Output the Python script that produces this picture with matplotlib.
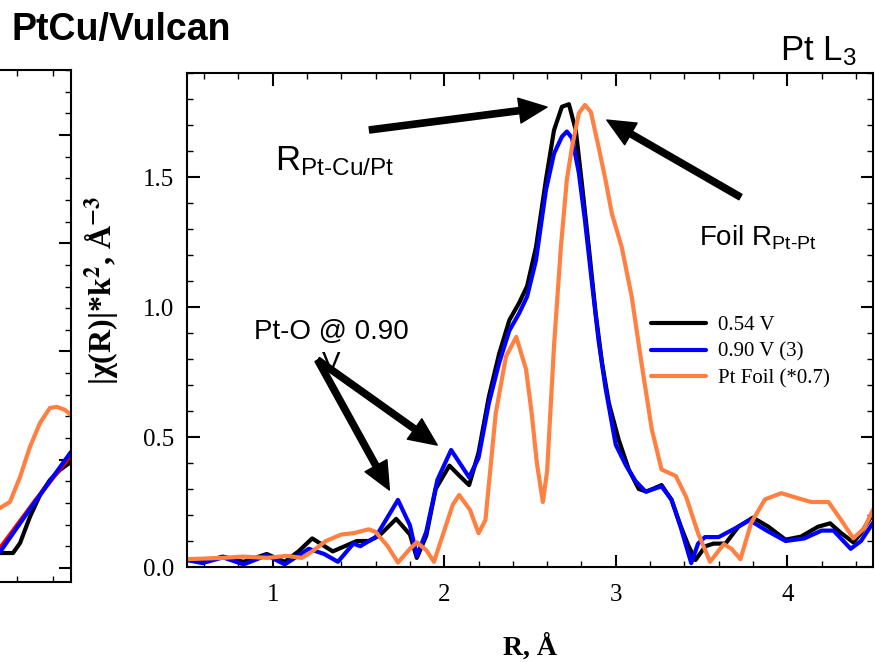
import matplotlib
matplotlib.use("Agg")
import matplotlib.pyplot as plt
from matplotlib.ticker import MultipleLocator

plt.rcParams['mathtext.fontset'] = 'custom'
plt.rcParams['mathtext.rm'] = 'Liberation Sans'
plt.rcParams['mathtext.it'] = 'Liberation Sans:italic'
plt.rcParams['mathtext.bf'] = 'Liberation Sans:bold'
plt.rcParams['lines.solid_joinstyle'] = 'round'
plt.rcParams['lines.solid_capstyle'] = 'round'

# main panel: Pt L3 edge, |chi(R)| vs R
r_054 = [0.5, 0.59, 0.71, 0.83, 0.965, 1.07, 1.15, 1.23, 1.35, 1.42, 1.49, 1.56, 1.62, 1.72, 1.80, 1.84,
         1.895, 1.95, 2.03, 2.09, 2.145, 2.20, 2.26, 2.32, 2.38, 2.436, 2.483, 2.535, 2.593, 2.64, 2.686,
         2.727, 2.767, 2.80, 2.843, 2.883, 2.92, 2.96, 3.017, 3.076, 3.134, 3.18, 3.267, 3.325, 3.38,
         3.425, 3.465, 3.523, 3.57, 3.64, 3.715, 3.80, 3.89, 3.99, 4.08, 4.18, 4.25, 4.315, 4.385, 4.43, 4.5]
chi_054 = [0.027, 0.02, 0.04, 0.02, 0.05, 0.02, 0.06, 0.11, 0.06, 0.08, 0.10, 0.10, 0.12, 0.185, 0.125, 0.035,
           0.12, 0.30, 0.39, 0.35, 0.315, 0.44, 0.655, 0.82, 0.95, 1.015, 1.08, 1.23, 1.49, 1.68, 1.77,
           1.78, 1.68, 1.49, 1.23, 0.975, 0.785, 0.63, 0.49, 0.375, 0.30, 0.29, 0.315, 0.258, 0.155,
           0.08, 0.027, 0.08, 0.09, 0.09, 0.155, 0.19, 0.155, 0.105, 0.117, 0.155, 0.168, 0.13, 0.095, 0.13, 0.205]

r_090 = [0.5, 0.59, 0.71, 0.83, 0.965, 1.07, 1.21, 1.30, 1.38, 1.47, 1.51, 1.60, 1.73, 1.80, 1.84, 1.895,
         1.96, 2.04, 2.145, 2.20, 2.26, 2.32, 2.38, 2.436, 2.483, 2.535, 2.593, 2.64, 2.686, 2.715, 2.745,
         2.785, 2.82, 2.86, 2.90, 2.94, 3.0, 3.06, 3.116, 3.174, 3.267, 3.325, 3.38, 3.44, 3.48, 3.52,
         3.60, 3.70, 3.78, 3.88, 3.99, 4.1, 4.2, 4.27, 4.37, 4.43, 4.5]
chi_090 = [0.027, 0.015, 0.037, 0.01, 0.045, 0.01, 0.07, 0.05, 0.02, 0.09, 0.08, 0.115, 0.258, 0.16, 0.043, 0.135,
           0.335, 0.45, 0.345, 0.42, 0.63, 0.785, 0.91, 0.975, 1.04, 1.18, 1.45, 1.59, 1.655, 1.675, 1.65,
           1.515, 1.335, 1.10, 0.87, 0.69, 0.47, 0.39, 0.33, 0.29, 0.31, 0.26, 0.15, 0.015, 0.09, 0.115,
           0.115, 0.15, 0.18, 0.14, 0.10, 0.11, 0.14, 0.14, 0.07, 0.10, 0.17]

r_foil = [0.5, 0.7, 0.83, 0.97, 1.08, 1.17, 1.23, 1.31, 1.40, 1.47, 1.56, 1.60, 1.67, 1.73, 1.80, 1.84,
          1.895, 1.94, 2.0, 2.05, 2.087, 2.15, 2.20, 2.24, 2.30, 2.36, 2.42, 2.477, 2.51, 2.54, 2.575,
          2.60, 2.64, 2.68, 2.715, 2.745, 2.785, 2.82, 2.855, 2.90, 2.94, 2.977, 3.035, 3.093, 3.15,
          3.21, 3.267, 3.35, 3.41, 3.48, 3.55, 3.63, 3.675, 3.727, 3.79, 3.87, 3.965, 4.06, 4.14, 4.24,
          4.315, 4.385, 4.45, 4.5]
chi_foil = [0.03, 0.035, 0.04, 0.035, 0.043, 0.035, 0.06, 0.10, 0.125, 0.13, 0.145, 0.135, 0.08, 0.017, 0.07, 0.095,
            0.065, 0.02, 0.14, 0.24, 0.277, 0.22, 0.13, 0.18, 0.59, 0.81, 0.885, 0.76, 0.59, 0.40, 0.25,
            0.37, 0.85, 1.23, 1.49, 1.615, 1.745, 1.777, 1.75, 1.615, 1.49, 1.36, 1.23, 1.04, 0.785,
            0.53, 0.375, 0.35, 0.27, 0.13, 0.02, 0.088, 0.07, 0.03, 0.17, 0.26, 0.284, 0.265, 0.25, 0.25,
            0.18, 0.11, 0.15, 0.22]

labels = ['0.54 V', '0.90 V (3)', 'Pt Foil (*0.7)']
colors = ['#000000', '#0000ff', '#ff8040']

# left panel (cut off at the figure edge)
xl_orange = [4.106, 4.161, 4.217, 4.272, 4.328, 4.383, 4.422, 4.467, 4.5]
yl_orange = [0.277, 0.305, 0.42, 0.559, 0.67, 0.739, 0.744, 0.73, 0.707]
xl_black = [4.106, 4.178, 4.217, 4.272, 4.328, 4.383, 4.439, 4.5]
yl_black = [0.069, 0.069, 0.115, 0.236, 0.337, 0.406, 0.453, 0.49]
xl_blue = [4.106, 4.3, 4.5]
yl_blue = [0.074, 0.305, 0.536]
xl_red = [4.106, 4.3, 4.5]
yl_red = [0.092, 0.31, 0.522]

fig = plt.figure(figsize=(8.75, 6.62), dpi=100)

def style_axes(ax):
    for s in ax.spines.values():
        s.set_linewidth(1.5)
    ax.tick_params(which='both', direction='in', top=True, right=True, width=1.5)
    ax.tick_params(which='major', length=9)
    ax.tick_params(which='minor', length=4.5, width=1)

ax0 = fig.add_axes([-0.3, 0.1208, 0.3811, 0.7734])
ax0.plot(xl_orange, yl_orange, color=colors[2], lw=3)
ax0.plot(xl_black, yl_black, color='black', lw=3)
ax0.plot(xl_red, yl_red, color='red', lw=3)
ax0.plot(xl_blue, yl_blue, color='blue', lw=3)
ax0.set_xlim(2.647, 4.5)
ax0.set_ylim(-0.065, 2.30)
ax0.xaxis.set_major_locator(MultipleLocator(1))
ax0.xaxis.set_minor_locator(MultipleLocator(0.2))
ax0.yaxis.set_major_locator(MultipleLocator(0.5))
ax0.yaxis.set_minor_locator(MultipleLocator(0.1))
style_axes(ax0)
ax0.tick_params(labelleft=False, labelbottom=False)

ax = fig.add_axes([187/875, 1-567/662, 686/875, 494/662])
ax.plot(r_054, chi_054, color=colors[0], lw=3, label=labels[0])
ax.plot(r_090, chi_090, color=colors[1], lw=3, label=labels[1])
ax.plot(r_foil, chi_foil, color=colors[2], lw=3, label=labels[2])
ax.set_xlim(0.5, 4.5)
ax.set_ylim(0, 1.9)
ax.xaxis.set_major_locator(MultipleLocator(1))
ax.xaxis.set_minor_locator(MultipleLocator(0.2))
ax.yaxis.set_major_locator(MultipleLocator(0.5))
ax.yaxis.set_minor_locator(MultipleLocator(0.1))
ax.yaxis.set_major_formatter(plt.FormatStrFormatter('%.1f'))
style_axes(ax)
ax.tick_params(axis='x', pad=12)
ax.tick_params(axis='y', pad=9)
for t in ax.get_xticklabels() + ax.get_yticklabels():
    t.set_fontfamily('Liberation Serif')
    t.set_fontsize(18)

ax.set_ylabel(r'|χ(R)|*k$^{\mathbf{2}}$, Å$^{\mathbf{-3}}$', fontsize=23, fontweight='bold',
              fontfamily='Liberation Serif', math_fontfamily='stix')
ax.yaxis.set_label_coords(-0.095, 0.56)
ax.set_xlabel('R, Å', fontsize=20, fontweight='bold', fontfamily='Liberation Serif')
ax.xaxis.set_label_coords(0.5, -0.135)

leg = ax.legend(loc='center left', bbox_to_anchor=(0.677, 0.435), frameon=False,
                prop={'family': 'Liberation Serif', 'size': 15}, handlelength=2.6,
                handletextpad=0.6, labelspacing=0.35, borderpad=0, borderaxespad=0)

arrow = dict(facecolor='black', edgecolor='black', width=4.5, headwidth=18, headlength=20, shrink=0)
ax.annotate('', xy=(2.599, 1.769), xytext=(1.564, 1.681), arrowprops=arrow)
ax.annotate('', xy=(2.948, 1.719), xytext=(3.727, 1.423), arrowprops=arrow)
ax.annotate('', xy=(1.680, 0.296), xytext=(1.262, 0.796), arrowprops=arrow)
ax.annotate('', xy=(1.959, 0.469), xytext=(1.262, 0.796), arrowprops=arrow)

ax.text(1.012, 1.527, r'R$_{\mathrm{Pt\text{-}Cu/Pt}}$', fontsize=25, fontfamily='Liberation Sans')
ax.text(3.483, 1.238, r'Foil R$_{\mathrm{Pt\text{-}Pt}}$', fontsize=20, fontfamily='Liberation Sans')
ax.text(1.343, 0.955, 'Pt-O @ 0.90\nV', fontsize=20, fontfamily='Liberation Sans',
        ha='center', va='top', multialignment='center', linespacing=1.3)

fig.text(12/875, 1-40/662, 'PtCu/Vulcan', fontsize=27, fontweight='bold', fontfamily='Liberation Sans')
fig.text(857/875, 1-60/662, r'Pt L$_3$', fontsize=25, fontfamily='Liberation Sans', ha='right')

fig.savefig('out.png', dpi=100)
